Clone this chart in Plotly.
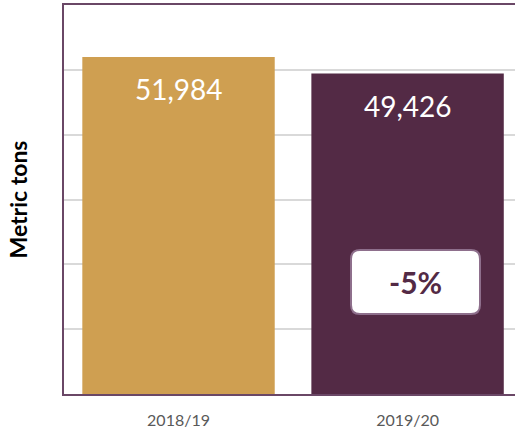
import plotly.graph_objects as go

categories = ["2018/19", "2019/20"]
values = [51984, 49426]
value_labels = ["51,984", "49,426"]
bar_colors = ["#CF9F51", "#532A45"]
change_label = "-5%"
y_title = "Metric tons"

W, H = 515, 433
ml, mr, mt, mb = 64, 0, 5, 39
pw, ph = W - ml - mr, H - mt - mb

fig = go.Figure()
fig.add_trace(go.Bar(
    x=categories, y=values, marker=dict(color=bar_colors, line=dict(width=0)),
    hoverinfo="skip", showlegend=False,
))

for c, v, t in zip(categories, values, value_labels):
    fig.add_annotation(x=c, y=v, text=t, showarrow=False, xanchor="center",
                       yanchor="middle", yshift=-32,
                       font=dict(family="Lato", size=28, color="white"))

# rounded box for change label (paper coords)
def px2x(p): return (p - ml) / pw
def py2y(p): return (H - mb - p) / ph
x0, x1, y0, y1, r = 351, 480, 250, 314, 9
path = (f"M {px2x(x0+r)} {py2y(y0)} L {px2x(x1-r)} {py2y(y0)} "
        f"Q {px2x(x1)} {py2y(y0)} {px2x(x1)} {py2y(y0+r)} "
        f"L {px2x(x1)} {py2y(y1-r)} Q {px2x(x1)} {py2y(y1)} {px2x(x1-r)} {py2y(y1)} "
        f"L {px2x(x0+r)} {py2y(y1)} Q {px2x(x0)} {py2y(y1)} {px2x(x0)} {py2y(y1-r)} "
        f"L {px2x(x0)} {py2y(y0+r)} Q {px2x(x0)} {py2y(y0)} {px2x(x0+r)} {py2y(y0)} Z")
fig.add_shape(type="path", path=path, xref="paper", yref="paper",
              fillcolor="white", line=dict(color="#8E6F8C", width=2), layer="above")
fig.add_annotation(xref="paper", yref="paper", x=px2x((x0+x1)/2), y=py2y((y0+y1)/2),
                   xanchor="center", yanchor="middle",
                   text=f"<b>{change_label}</b>", showarrow=False,
                   font=dict(family="Lato", size=30, color="#532A45"))

fig.update_layout(
    width=W, height=H, margin=dict(l=ml, r=mr, t=mt, b=mb),
    paper_bgcolor="white", plot_bgcolor="white", bargap=0.16,
    font=dict(family="Lato"),
)
fig.update_xaxes(
    type="category", range=[-0.5, 1.469], showline=True, linecolor="#6A4766",
    linewidth=2, mirror=True, showgrid=False, ticks="", ticklabelstandoff=11,
    tickfont=dict(family="Lato", size=16, color="#595959"),
)
fig.update_yaxes(
    range=[0, 60000], dtick=10000, showticklabels=False, showline=True,
    linecolor="#6A4766", linewidth=2, showgrid=True, gridcolor="#D9D9D9",
    gridwidth=1.5, zeroline=False, ticks="",
    title=dict(text=f"<b>{y_title}</b>", standoff=28,
               font=dict(family="Lato", size=23, color="black")),
)
fig.write_html("out.html", config={"displayModeBar": False},
               post_script="document.body.style.margin='0';document.body.style.overflow='hidden';")
